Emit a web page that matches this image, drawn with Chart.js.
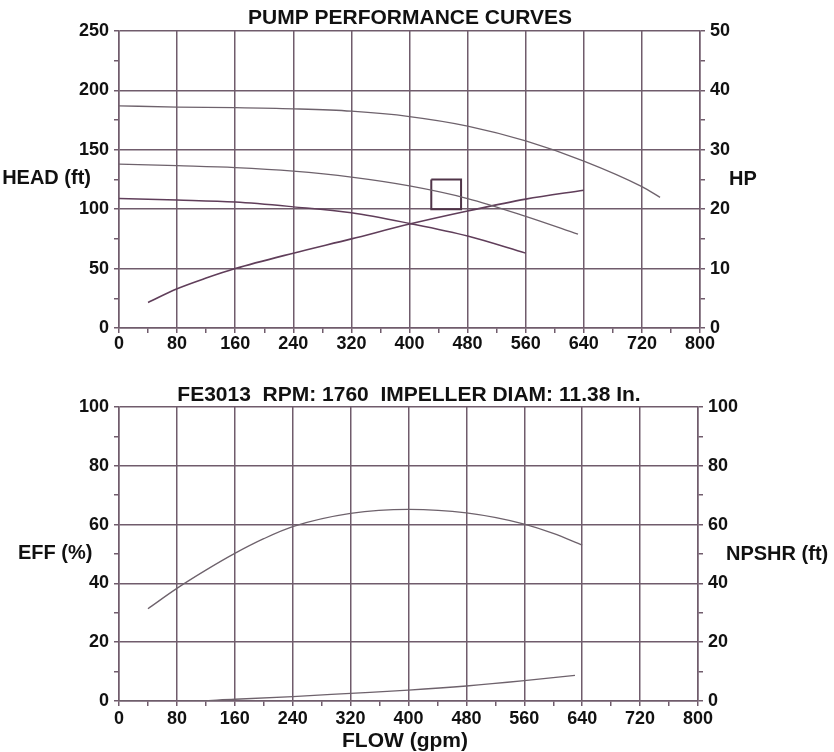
<!DOCTYPE html>
<html>
<head>
<meta charset="utf-8">
<script src="https://cdn.jsdelivr.net/npm/chart.js@4.4.1/dist/chart.umd.min.js"></script>
<style>
  html, body { margin: 0; padding: 0; background: #fff; width: 834px; height: 752px; overflow: hidden; }
  canvas { position: absolute; left: 0; }
  #topChart { top: 0; }
  #bottomChart { top: 370px; }
</style>
</head>
<body>
<canvas id="topChart" width="834" height="360"></canvas>
<canvas id="bottomChart" width="834" height="382"></canvas>
<script>
// --- data (flow in gpm) ---
const headFlowA = [0, 80, 160, 240, 320, 400, 480, 560, 640, 720, 745];
const headA = [187, 186, 185.5, 184.5, 182.5, 178, 170, 157.5, 140.5, 119, 110];
const headFlowB = [0, 80, 160, 240, 320, 400, 480, 560, 632];
const headB = [138, 136.6, 135, 132, 127, 119.6, 109, 94, 79];
const headFlowC = [0, 80, 160, 240, 320, 400, 480, 560];
const headC = [109, 107.7, 106, 102, 97, 88, 77.4, 63];
const hpFlow = [40, 80, 120, 160, 240, 320, 400, 480, 560, 640];
const hp = [4.3, 6.6, 8.4, 10, 12.6, 15, 17.5, 19.7, 21.7, 23.2];
// duty point box
const boxFlow = [430, 471, 471, 430, 430];
const boxHead = [125, 125, 100, 100, 125];

const effFlow = [40, 80, 120, 160, 200, 240, 320, 400, 480, 560, 600, 640];
const eff = [31.4, 38.3, 44.5, 50.2, 55.2, 59.3, 63.8, 65.2, 64, 60.2, 57, 53];
const npshFlow = [0, 80, 160, 240, 320, 400, 480, 560, 630];
const npshr = [0, -0.2, 0.6, 1.5, 2.6, 3.7, 5.1, 6.9, 8.7];

const topTitle = "PUMP PERFORMANCE CURVES";
const bottomTitle = "FE3013  RPM: 1760  IMPELLER DIAM: 11.38 In.";

const gridColor = "rgb(112,92,108)";
const curveColor = "rgb(110,98,108)";
const hpColor = "rgb(96,62,90)";
const font = "'Liberation Sans', Arial, sans-serif";

Chart.defaults.font.family = font;
Chart.defaults.color = "#111";

const pts = (xs, ys) => xs.map((x, i) => ({ x: x, y: ys[i] }));

// draws the horizontal axis captions and titles
const freeText = {
  id: "freeText",
  afterDraw(chart, args, opts) {
    const ctx = chart.ctx;
    opts.items.forEach((t) => {
      ctx.save();
      ctx.font = "bold " + t.size + "px " + font;
      ctx.fillStyle = "#111";
      ctx.textAlign = t.align;
      ctx.textBaseline = "middle";
      ctx.fillText(t.text, t.x, t.y);
      ctx.restore();
    });
  },
};

function flowAxis(height, pad) {
  return {
    type: "linear",
    min: 0,
    max: 800,
    afterFit: (s) => { s.height = height; },
    grid: {
      color: (c) => (c.tick && c.tick.value % 80 === 0 ? gridColor : "rgba(0,0,0,0)"),
      tickColor: gridColor,
      lineWidth: 1.5,
      tickLength: 5,
    },
    border: { color: gridColor, width: 1.5 },
    ticks: {
      stepSize: 40,
      autoSkip: false,
      maxRotation: 0,
      padding: pad,
      font: { size: 18, weight: "bold" },
      callback: (v) => (v % 80 === 0 ? v : ""),
    },
  };
}

function valueAxis(pos, max, step, major, width, onArea) {
  return {
    type: "linear",
    position: pos,
    min: 0,
    max: max,
    afterFit: (s) => { s.width = width; },
    grid: {
      drawOnChartArea: onArea,
      color: (c) => (c.tick && c.tick.value % major === 0 ? gridColor : "rgba(0,0,0,0)"),
      tickColor: gridColor,
      lineWidth: 1.5,
      tickLength: 5,
    },
    border: { color: gridColor, width: 1.5 },
    ticks: {
      stepSize: step,
      autoSkip: false,
      padding: 5,
      font: { size: 18, weight: "bold" },
      callback: (v) => (v % major === 0 ? v : ""),
    },
  };
}

const curve = (data, axis, color, width) => ({
  data: data,
  yAxisID: axis,
  borderColor: color,
  borderWidth: width,
  pointRadius: 0,
  cubicInterpolationMode: "monotone",
  fill: false,
});

new Chart(document.getElementById("topChart"), {
  type: "line",
  data: {
    datasets: [
      curve(pts(headFlowA, headA), "y", curveColor, 1.3),
      curve(pts(headFlowB, headB), "y", curveColor, 1.3),
      curve(pts(headFlowC, headC), "y", hpColor, 1.4),
      curve(pts(hpFlow, hp), "y1", hpColor, 1.6),
      {
        data: pts(boxFlow, boxHead),
        yAxisID: "y",
        borderColor: "rgb(80,52,72)",
        borderWidth: 2,
        pointRadius: 0,
        tension: 0,
        fill: false,
      },
    ],
  },
  options: {
    responsive: false,
    devicePixelRatio: 1,
    animation: false,
    layout: { padding: { top: 31, left: 0, right: 0, bottom: 0 } },
    plugins: {
      legend: { display: false },
      tooltip: { enabled: false },
      freeText: {
        items: [
          { text: topTitle, x: 410, y: 18.5, size: 21, align: "center" },
          { text: "HEAD (ft)", x: 91, y: 178, size: 20, align: "right" },
          { text: "HP", x: 729, y: 179, size: 20, align: "left" },
        ],
      },
    },
    scales: {
      x: flowAxis(32, 0),
      y: valueAxis("left", 250, 25, 50, 119, true),
      y1: valueAxis("right", 50, 5, 10, 134, false),
    },
  },
  plugins: [freeText],
});

new Chart(document.getElementById("bottomChart"), {
  type: "line",
  data: {
    datasets: [
      curve(pts(effFlow, eff), "y", curveColor, 1.3),
      curve(pts(npshFlow, npshr), "y1", curveColor, 1.3),
    ],
  },
  options: {
    responsive: false,
    devicePixelRatio: 1,
    animation: false,
    layout: { padding: { top: 37, left: 0, right: 0, bottom: 0 } },
    plugins: {
      legend: { display: false },
      tooltip: { enabled: false },
      freeText: {
        items: [
          { text: bottomTitle, x: 409, y: 25, size: 21, align: "center" },
          { text: "EFF (%)", x: 18, y: 183, size: 20, align: "left" },
          { text: "NPSHR (ft)", x: 726, y: 184, size: 20, align: "left" },
          { text: "FLOW (gpm)", x: 405, y: 371, size: 21, align: "center" },
        ],
      },
    },
    scales: {
      x: flowAxis(51, 2),
      y: valueAxis("left", 100, 10, 20, 119, true),
      y1: valueAxis("right", 100, 10, 20, 136, false),
    },
  },
  plugins: [freeText],
});
</script>
</body>
</html>
